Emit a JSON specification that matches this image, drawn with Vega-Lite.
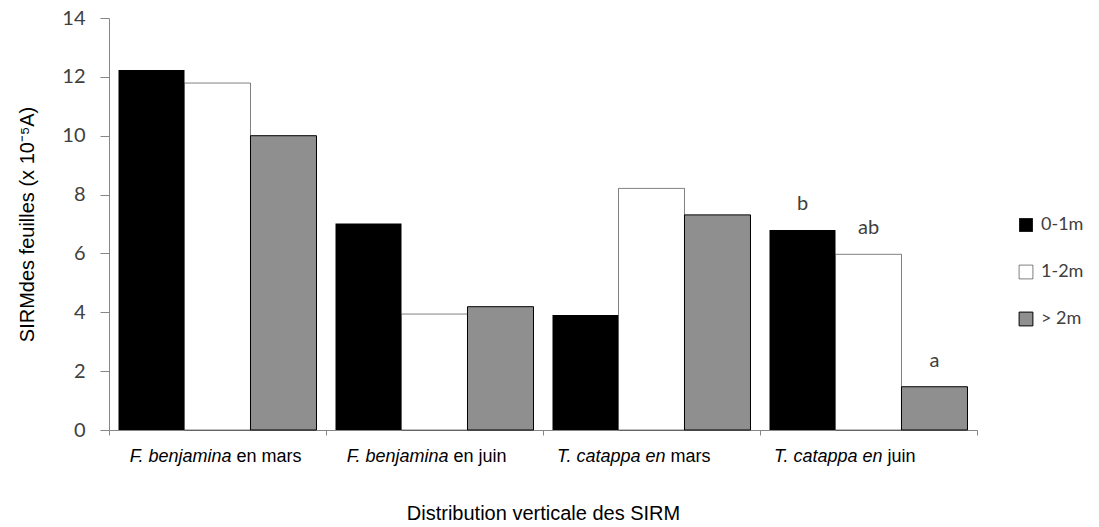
{
  "$schema": "https://vega.github.io/schema/vega-lite/v6.json",
  "width": 868,
  "height": 412,
  "autosize": "none",
  "padding": {"left": 109, "top": 18, "right": 122, "bottom": 97},
  "background": "white",
  "config": {"view": {"stroke": null}, "font": "Liberation Sans"},
  "datasets": {
    "barres": [
      {"categorie": "F. benjamina en mars", "hauteur": "0-1m", "sirm": 12.23, "lettre": ""},
      {"categorie": "F. benjamina en mars", "hauteur": "1-2m", "sirm": 11.79, "lettre": ""},
      {"categorie": "F. benjamina en mars", "hauteur": "> 2m", "sirm": 10.0, "lettre": ""},
      {"categorie": "F. benjamina en juin", "hauteur": "0-1m", "sirm": 7.02, "lettre": ""},
      {"categorie": "F. benjamina en juin", "hauteur": "1-2m", "sirm": 3.94, "lettre": ""},
      {"categorie": "F. benjamina en juin", "hauteur": "> 2m", "sirm": 4.19, "lettre": ""},
      {"categorie": "T. catappa en mars", "hauteur": "0-1m", "sirm": 3.91, "lettre": ""},
      {"categorie": "T. catappa en mars", "hauteur": "1-2m", "sirm": 8.21, "lettre": ""},
      {"categorie": "T. catappa en mars", "hauteur": "> 2m", "sirm": 7.31, "lettre": ""},
      {"categorie": "T. catappa en juin", "hauteur": "0-1m", "sirm": 6.8, "lettre": "b"},
      {"categorie": "T. catappa en juin", "hauteur": "1-2m", "sirm": 5.97, "lettre": "ab"},
      {"categorie": "T. catappa en juin", "hauteur": "> 2m", "sirm": 1.47, "lettre": "a"}
    ],
    "etiquettes": [
      {"categorie": "F. benjamina en mars", "italique": "F. benjamina", "normal": "en mars"},
      {"categorie": "F. benjamina en juin", "italique": "F. benjamina", "normal": "en juin"},
      {"categorie": "T. catappa en mars", "italique": "T. catappa en", "normal": "mars"},
      {"categorie": "T. catappa en juin", "italique": "T. catappa en", "normal": "juin"}
    ]
  },
  "layer": [
    {
      "data": {"name": "barres"},
      "mark": {"type": "bar", "stroke": "black"},
      "encoding": {
        "x": {
          "field": "categorie",
          "type": "nominal",
          "sort": ["F. benjamina en mars", "F. benjamina en juin", "T. catappa en mars", "T. catappa en juin"],
          "scale": {"paddingInner": 0, "paddingOuter": 0},
          "axis": {
            "labels": false,
            "ticks": true,
            "tickBand": "extent",
            "tickSize": 5,
            "tickColor": "#868686",
            "domainColor": "#868686",
            "title": "Distribution  verticale des SIRM",
            "titleFont": "Liberation Sans",
            "titleFontSize": 20,
            "titleFontWeight": "normal",
            "titleColor": "#000000",
            "titlePadding": 68
          }
        },
        "xOffset": {
          "field": "hauteur",
          "type": "nominal",
          "sort": ["0-1m", "1-2m", "> 2m"],
          "scale": {"paddingInner": 0, "paddingOuter": 0.144}
        },
        "y": {
          "field": "sirm",
          "type": "quantitative",
          "scale": {"domain": [0, 14]},
          "axis": {
            "values": [0, 2, 4, 6, 8, 10, 12, 14],
            "grid": false,
            "domainColor": "#868686",
            "tickColor": "#868686",
            "tickSize": 9,
            "labelPadding": 15,
            "labelFont": "Lato",
            "labelFontSize": 20,
            "labelColor": "#404040",
            "title": "SIRMdes feuilles (x 10⁻⁵A)",
            "titleFont": "Liberation Sans",
            "titleFontSize": 20,
            "titleFontWeight": "normal",
            "titleColor": "#000000",
            "titlePadding": 24
          }
        },
        "fill": {
          "field": "hauteur",
          "type": "nominal",
          "scale": {"domain": ["0-1m", "1-2m", "> 2m"], "range": ["#000000", "#ffffff", "#8f8f8f"]},
          "legend": {
            "title": null,
            "orient": "none",
            "legendX": 908,
            "legendY": 198,
            "symbolType": "square",
            "symbolSize": 190,
            "symbolStrokeColor": "#000000",
            "symbolStrokeWidth": 1,
            "labelFont": "Lato",
            "labelFontSize": 18,
            "labelColor": "#404040",
            "labelOffset": 6,
            "rowPadding": 29
          }
        },
        "strokeWidth": {
          "field": "hauteur",
          "type": "nominal",
          "scale": {"domain": ["0-1m", "1-2m", "> 2m"], "range": [0, 1, 2]},
          "legend": null
        }
      }
    },
    {
      "data": {"name": "barres"},
      "mark": {"type": "text", "dy": -26, "baseline": "middle", "font": "Lato", "fontSize": 20, "color": "#404040"},
      "encoding": {
        "x": {"field": "categorie", "type": "nominal", "sort": ["F. benjamina en mars", "F. benjamina en juin", "T. catappa en mars", "T. catappa en juin"]},
        "xOffset": {"field": "hauteur", "type": "nominal", "sort": ["0-1m", "1-2m", "> 2m"]},
        "y": {"field": "sirm", "type": "quantitative"},
        "text": {"field": "lettre"}
      }
    },
    {
      "data": {"name": "etiquettes"},
      "mark": {"type": "text", "align": "right", "baseline": "middle", "dx": 14, "dy": 27, "font": "Liberation Sans", "fontSize": 18, "fontStyle": "italic", "color": "#000000"},
      "encoding": {
        "x": {"field": "categorie", "type": "nominal", "sort": ["F. benjamina en mars", "F. benjamina en juin", "T. catappa en mars", "T. catappa en juin"]},
        "y": {"datum": 0, "type": "quantitative"},
        "text": {"field": "italique"}
      }
    },
    {
      "data": {"name": "etiquettes"},
      "mark": {"type": "text", "align": "left", "baseline": "middle", "dx": 19, "dy": 27, "font": "Liberation Sans", "fontSize": 18, "color": "#000000"},
      "encoding": {
        "x": {"field": "categorie", "type": "nominal", "sort": ["F. benjamina en mars", "F. benjamina en juin", "T. catappa en mars", "T. catappa en juin"]},
        "y": {"datum": 0, "type": "quantitative"},
        "text": {"field": "normal"}
      }
    }
  ]
}
